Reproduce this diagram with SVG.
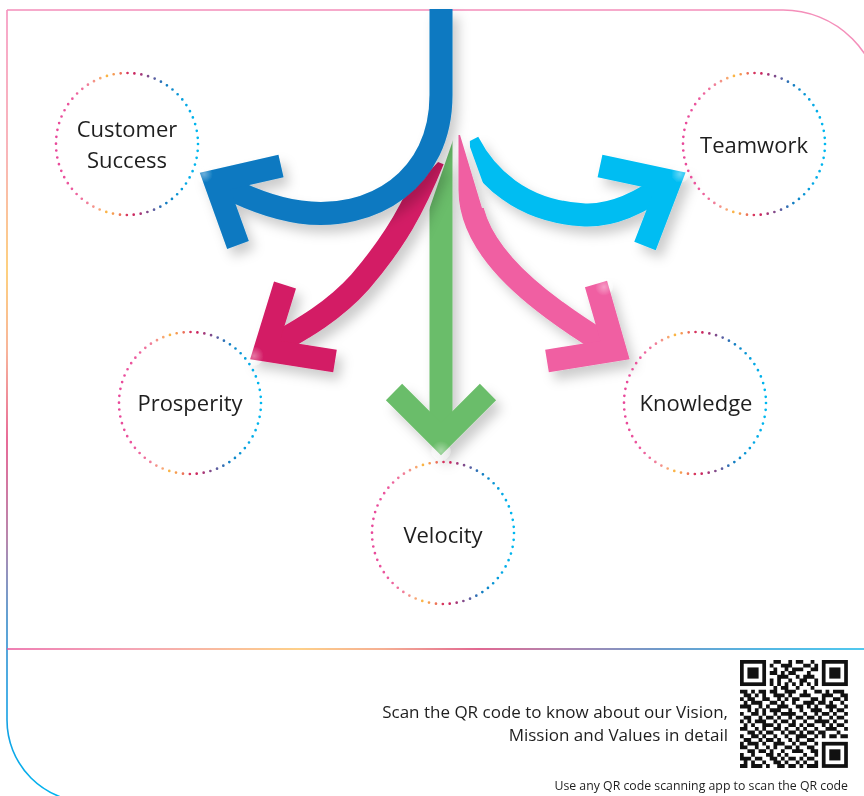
<svg xmlns="http://www.w3.org/2000/svg" width="864" height="796" viewBox="0 0 864 796">
<defs>
<style>
.lbl{font-family:"Open Sans","Noto Sans","Liberation Sans",sans-serif;font-size:22px;fill:#1e1e1e;text-anchor:middle}
.foot{font-family:"Open Sans","Noto Sans","Liberation Sans",sans-serif;fill:#1e1e1e;text-anchor:end}
.ring{fill:none;stroke:url(#ringG);stroke-width:2.7;stroke-linecap:round;stroke-dasharray:0 6.97}
.arw{fill:none;stroke-width:23;stroke-linecap:butt;stroke-linejoin:miter;stroke-miterlimit:10}
</style>
<linearGradient id="ringG" x1="0" y1="0" x2="1" y2="0">
<stop offset="0" stop-color="#e8489a"/>
<stop offset="0.12" stop-color="#ec5a9e"/>
<stop offset="0.22" stop-color="#f07c9a"/>
<stop offset="0.3" stop-color="#f7a37a"/>
<stop offset="0.36" stop-color="#fbb642"/>
<stop offset="0.42" stop-color="#f39055"/>
<stop offset="0.47" stop-color="#e86158"/>
<stop offset="0.5" stop-color="#d7335f"/>
<stop offset="0.56" stop-color="#c8245f"/>
<stop offset="0.61" stop-color="#9b3e80"/>
<stop offset="0.66" stop-color="#77508f"/>
<stop offset="0.71" stop-color="#4c66aa"/>
<stop offset="0.76" stop-color="#1578be"/>
<stop offset="0.84" stop-color="#0a90d0"/>
<stop offset="0.92" stop-color="#03a9e6"/>
<stop offset="1" stop-color="#00b8f0"/>
</linearGradient>
<linearGradient id="leftG" gradientUnits="userSpaceOnUse" x1="0" y1="10" x2="0" y2="800">
<stop offset="0" stop-color="#f592be"/>
<stop offset="0.18" stop-color="#f7a3a8"/>
<stop offset="0.33" stop-color="#fdc55f"/>
<stop offset="0.43" stop-color="#f6a382"/>
<stop offset="0.545" stop-color="#e2467f"/>
<stop offset="0.67" stop-color="#a66a99"/>
<stop offset="0.77" stop-color="#3a8ac8"/>
<stop offset="0.87" stop-color="#1a9be0"/>
<stop offset="1" stop-color="#00b4ef"/>
</linearGradient>
<linearGradient id="divG" gradientUnits="userSpaceOnUse" x1="7" y1="0" x2="864" y2="0">
<stop offset="0" stop-color="#e9549a"/>
<stop offset="0.15" stop-color="#f1889c"/>
<stop offset="0.34" stop-color="#fdc061"/>
<stop offset="0.44" stop-color="#f2946f"/>
<stop offset="0.55" stop-color="#d8356d"/>
<stop offset="0.64" stop-color="#9a5a92"/>
<stop offset="0.76" stop-color="#3f78b8"/>
<stop offset="0.88" stop-color="#1a9ed9"/>
<stop offset="1" stop-color="#16b6e9"/>
</linearGradient>
<radialGradient id="glow">
<stop offset="0" stop-color="#fff" stop-opacity="0.4"/>
<stop offset="1" stop-color="#fff" stop-opacity="0"/>
</radialGradient>
<filter id="sh" x="-40%" y="-40%" width="180%" height="180%">
<feDropShadow dx="6" dy="8" stdDeviation="6" flood-color="#000" flood-opacity="0.2"/>
</filter>
<clipPath id="cutGreen"><path d="M400,300 L430,207 L452,143 L460,120 H864 V796 H400 Z"/></clipPath>
<clipPath id="cutCrimson"><path d="M500,97 L440,160 L397,205 L200,411 L0,411 V796 H864 V97 Z"/></clipPath>
<clipPath id="cutPink"><path d="M0,0 H455 L460,135 L482,208 H864 V796 H0 Z"/></clipPath>
<clipPath id="cutCyan"><path d="M466,0 L470,147 L492,208 L492,796 H864 V0 Z"/></clipPath>
</defs>

<rect width="864" height="796" fill="#fff"/>

<g id="frame" fill="none" stroke-width="1.6">
<path d="M7,10 H783 A98,98 0 0 1 881,108" stroke="#f48fba"/>
<path d="M7,10 V720 A82,82 0 0 0 89,802" stroke="url(#leftG)"/>
<path d="M7,649 H864" stroke="url(#divG)"/>
</g>

<g id="connectors">
<g id="arrow-velocity" filter="url(#sh)">
<path class="arw" stroke="#6bbd6a" clip-path="url(#cutGreen)" d="M441,130 V439"/>
<polyline class="arw" stroke="#6bbd6a" points="394,392 441,439 488,392"/>
<circle cx="441" cy="451" r="10" fill="url(#glow)"/>
</g>
<g id="arrow-prosperity" filter="url(#sh)">
<path class="arw" stroke="#d31b65" clip-path="url(#cutCrimson)" d="M433,160 C414,207 396,240 360,282 C335,310 305,328 265,350"/>
<polyline class="arw" stroke="#d31b65" points="285,285 265,350 335,361"/>
<circle cx="254" cy="356" r="10" fill="url(#glow)"/>
</g>
<g id="arrow-knowledge" filter="url(#sh)">
<path class="arw" stroke="#f05ea2" clip-path="url(#cutPink)" d="M470,135 V190 C470,252 540,305 615,350"/>
<polyline class="arw" stroke="#f05ea2" points="596,284 615,350 547,361"/>
<circle cx="604" cy="287" r="9" fill="url(#glow)"/>
</g>
<g id="arrow-teamwork" filter="url(#sh)">
<path class="arw" stroke="#00bdf2" clip-path="url(#cutCyan)" d="M468,142 C485,175 520,212 585,215 C615,216 645,200 670,181"/>
<polyline class="arw" stroke="#00bdf2" points="600,166 670,181 645,246"/>
<circle cx="680" cy="174" r="9" fill="url(#glow)"/>
</g>
<g id="arrow-customer-success" filter="url(#sh)">
<path class="arw" stroke="#0a79c1" d="M441,9 V95 C441,180 372,222 300,212 C272,208 242,196 215,181"/>
<polyline class="arw" stroke="#0a79c1" points="281,166 215,181 238,245"/>
<circle cx="204" cy="174" r="9" fill="url(#glow)"/>
</g>
</g>

<g id="node-customer-success">
<circle class="ring" cx="127" cy="144" r="71"/>
<text class="lbl" x="127" y="137">Customer</text>
<text class="lbl" x="127" y="168">Success</text>
</g>
<g id="node-teamwork">
<circle class="ring" cx="754" cy="144" r="71"/>
<text class="lbl" x="754" y="153">Teamwork</text>
</g>
<g id="node-prosperity">
<circle class="ring" cx="190" cy="403" r="71"/>
<text class="lbl" x="190" y="411">Prosperity</text>
</g>
<g id="node-knowledge">
<circle class="ring" cx="695" cy="403" r="71"/>
<text class="lbl" x="696" y="411">Knowledge</text>
</g>
<g id="node-velocity">
<circle class="ring" cx="443" cy="533" r="71"/>
<text class="lbl" x="443" y="543">Velocity</text>
</g>

<g id="footer">
<text class="foot" x="728" y="718" font-size="17">Scan the QR code to know about our Vision,</text>
<text class="foot" x="728" y="741" font-size="17">Mission and Values in detail</text>
<text class="foot" x="848" y="790" font-size="12.3">Use any QR code scanning app to scan the QR code</text>
</g>

<g id="qr" transform="translate(740,660) scale(3.72)">
<rect x="0" y="0" width="7" height="7" fill="#111"/><rect x="1" y="1" width="5" height="5" fill="#fff"/><rect x="2" y="2" width="3" height="3" fill="#111"/>
<rect x="22" y="0" width="7" height="7" fill="#111"/><rect x="23" y="1" width="5" height="5" fill="#fff"/><rect x="24" y="2" width="3" height="3" fill="#111"/>
<rect x="22" y="22" width="7" height="7" fill="#111"/><rect x="23" y="23" width="5" height="5" fill="#fff"/><rect x="24" y="24" width="3" height="3" fill="#111"/>
<path fill="none" stroke="#111" stroke-width="1.03" d="M9,.5h2M13,.5h1M15,.5h2M19,.5h1
M8,1.5h1M11,1.5h3M17,1.5h2M20,1.5h1
M9,2.5h1M12,2.5h1M14,2.5h3M19,2.5h2
M8,3.5h2M11,3.5h1M13,3.5h2M18,3.5h1
M10,4.5h3M15,4.5h1M17,4.5h3
M8,5.5h1M10,5.5h1M13,5.5h1M16,5.5h2M20,5.5h1
M8,6.5h1M10,6.5h1M12,6.5h1M14,6.5h1M16,6.5h1M18,6.5h1M20,6.5h1
M9,7.5h1M11,7.5h2M15,7.5h1M19,7.5h1
M0,8.5h2M3,8.5h1M5,8.5h2M8,8.5h2M12,8.5h3M17,8.5h1M20,8.5h2M23,8.5h1M25,8.5h3
M1,9.5h2M4,9.5h1M6,9.5h1M9,9.5h3M13,9.5h1M16,9.5h3M22,9.5h3M27,9.5h2
M0,10.5h1M2,10.5h2M6,10.5h2M10,10.5h1M12,10.5h1M14,10.5h2M19,10.5h2M22,10.5h1M25,10.5h2M28,10.5h1
M1,11.5h1M3,11.5h3M8,11.5h2M11,11.5h1M14,11.5h1M17,11.5h3M21,11.5h2M24,11.5h1M27,11.5h1
M0,12.5h3M5,12.5h1M7,12.5h1M10,12.5h3M15,12.5h2M18,12.5h1M20,12.5h1M23,12.5h3M28,12.5h1
M2,13.5h1M4,13.5h1M6,13.5h1M8,13.5h3M13,13.5h1M16,13.5h1M19,13.5h3M24,13.5h1M26,13.5h2
M0,14.5h1M3,14.5h2M6,14.5h1M9,14.5h1M11,14.5h4M17,14.5h1M20,14.5h1M22,14.5h2M25,14.5h1M28,14.5h1
M1,15.5h2M5,15.5h1M7,15.5h2M10,15.5h1M13,15.5h1M15,15.5h2M18,15.5h2M21,15.5h1M24,15.5h1M26,15.5h2
M0,16.5h1M2,16.5h1M4,16.5h3M9,16.5h1M11,16.5h2M14,16.5h1M17,16.5h1M20,16.5h4M25,16.5h1M28,16.5h1
M1,17.5h1M3,17.5h1M6,17.5h3M10,17.5h1M13,17.5h2M16,17.5h1M18,17.5h2M22,17.5h1M24,17.5h1M26,17.5h2
M0,18.5h2M4,18.5h1M6,18.5h1M9,18.5h2M12,18.5h1M15,18.5h1M17,18.5h1M20,18.5h1M23,18.5h3M28,18.5h1
M2,19.5h2M5,19.5h1M7,19.5h2M11,19.5h1M13,19.5h2M16,19.5h1M18,19.5h2M21,19.5h2M26,19.5h1
M0,20.5h1M3,20.5h2M6,20.5h1M9,20.5h1M12,20.5h1M15,20.5h3M20,20.5h1M22,20.5h1M24,20.5h2M27,20.5h2
M1,21.5h2M5,21.5h1M7,21.5h2M10,21.5h1M13,21.5h1M15,21.5h1M18,21.5h2
M0,22.5h1M2,22.5h3M6,22.5h1M9,22.5h3M14,22.5h1M16,22.5h2M20,22.5h1
M0,23.5h2M4,23.5h1M7,23.5h1M9,23.5h1M12,23.5h2M15,23.5h1M18,23.5h2
M2,24.5h2M5,24.5h2M8,24.5h1M11,24.5h1M14,24.5h3M19,24.5h2
M0,25.5h1M3,25.5h1M7,25.5h2M10,25.5h1M12,25.5h1M17,25.5h1M20,25.5h1
M0,26.5h3M4,26.5h2M8,26.5h2M11,26.5h1M13,26.5h2M16,26.5h1M18,26.5h2
M1,27.5h1M3,27.5h1M6,27.5h1M9,27.5h2M12,27.5h1M15,27.5h1M17,27.5h1M20,27.5h1
M0,28.5h2M3,28.5h3M7,28.5h1M10,28.5h2M13,28.5h2M16,28.5h1M18,28.5h3"/>
</g>
</svg>
